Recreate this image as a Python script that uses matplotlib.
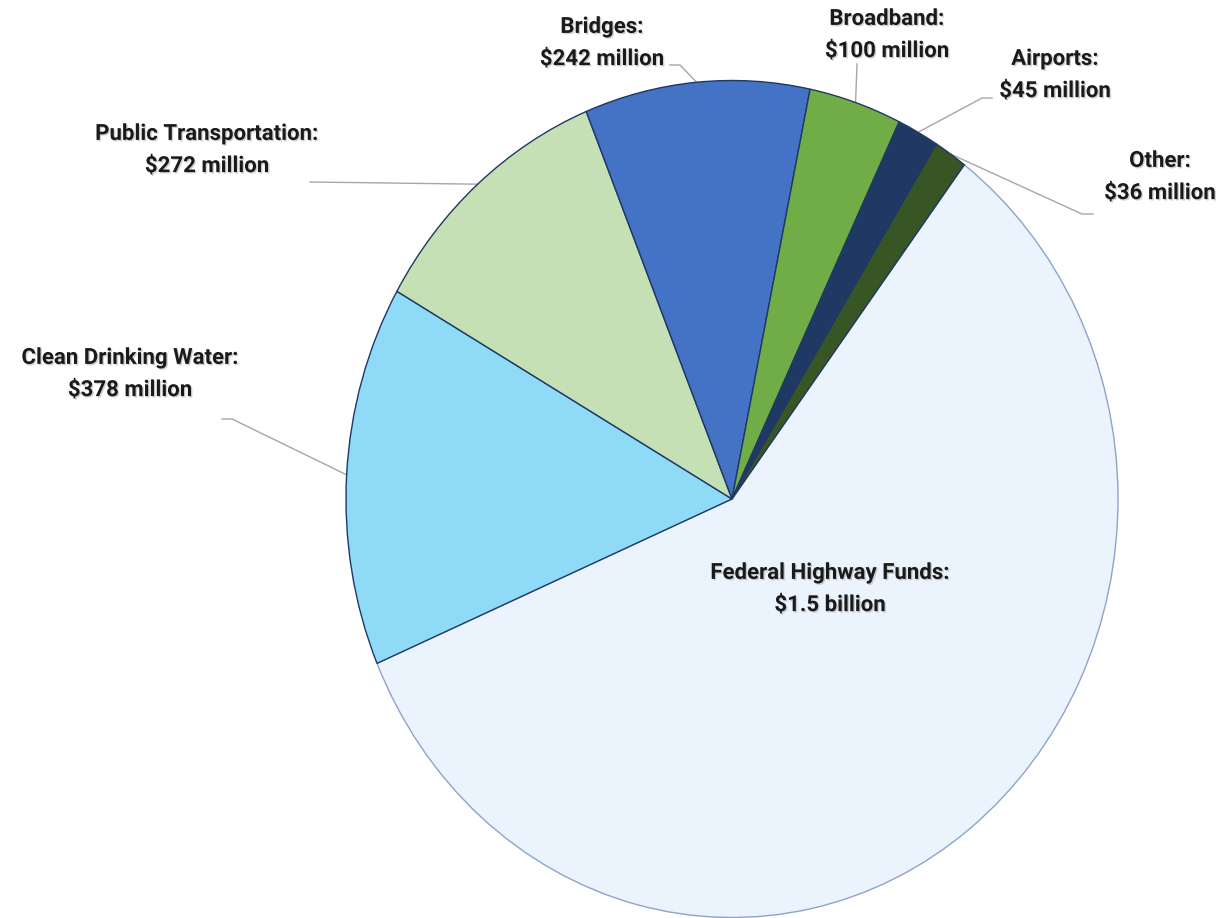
import numpy as np
import matplotlib.pyplot as plt
import matplotlib.patheffects as pe

labels = ['Federal Highway Funds:\n$1.5 billion',
          'Clean Drinking Water:\n$378 million',
          'Public Transportation:\n$272 million',
          'Bridges:\n$242 million',
          'Broadband:\n$100 million',
          'Airports:\n$45 million',
          'Other:\n$36 million']
values = [1500, 378, 272, 242, 100, 45, 36]
colors = ['#EBF3FC', '#8FDAF7', '#C5E0B4', '#4472C4', '#70AD47', '#203864', '#375623']
edges = ['#8FA3C9', '#1F3864', '#1F3864', '#1F3864', '#1F3864', '#1F3864', '#1F3864']

# pie geometry in pixels (slightly stretched vertically like the original)
W, H = 1228, 918
cx, cy, rx, ry = 732, 499, 386, 418.5

def px(x, y):
	return (x - cx) / rx, (cy - y) / ry

# label centres and leader line (label end, elbow) in pixels
label_pos = [(830, 589), (130, 374), (207, 150), (602, 43), (887, 35), (1055, 75), (1160, 177)]
leader = [None,
          ((222, 419), (232, 419)),
          ((310, 182), (310, 182)),
          ((670, 65), (680, 65)),
          ((857, 64), (857, 64)),
          ((992, 98), (982, 98)),
          ((1093, 214), (1082, 214))]

plt.rcParams['font.family'] = ['Roboto', 'DejaVu Sans']

fig = plt.figure(figsize=(W/100, H/100), dpi=100)
ax = fig.add_axes([0, 0, 1, 1])

wedges, _ = ax.pie(values, colors=colors, startangle=53, counterclock=False,
                   wedgeprops=dict(linewidth=1.0))
for w, ec in zip(wedges, edges):
	w.set_edgecolor(ec)

ax.set_aspect('auto')
ax.set_xlim(-cx/rx, (W-cx)/rx)
ax.set_ylim((cy-H)/ry, cy/ry)
ax.axis('off')

shadow = [pe.withSimplePatchShadow(offset=(1, -1), shadow_rgbFace='#808080', alpha=0.35)]

for i, w in enumerate(wedges):
	tx, ty = px(*label_pos[i])
	ax.text(tx, ty, labels[i], ha='center', va='center', fontsize=16, fontweight='bold',
	        color='#1a1a1a', linespacing=1.6, path_effects=shadow)
	if leader[i] is not None:
		mid = np.deg2rad((w.theta1 + w.theta2) / 2)
		p0 = px(*leader[i][0])
		p1 = px(*leader[i][1])
		ax.plot([p0[0], p1[0], np.cos(mid)], [p0[1], p1[1], np.sin(mid)],
		        color='#A6A6A6', lw=1.0, zorder=0.5)

plt.savefig('out.png', dpi=100)
